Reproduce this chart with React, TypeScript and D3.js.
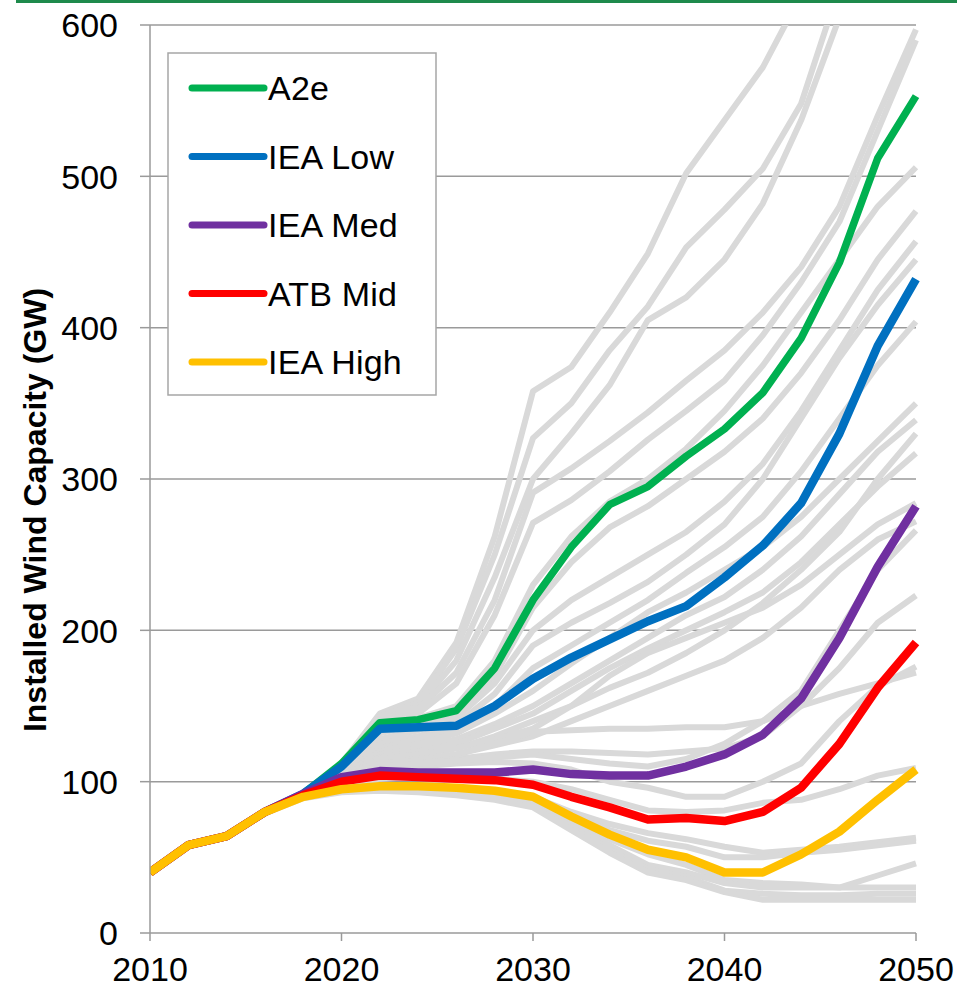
import React from "react";
import * as d3 from "d3";

const years = [2010, 2012, 2014, 2016, 2018, 2020, 2022, 2024, 2026, 2028, 2030, 2032, 2034, 2036, 2038, 2040, 2042, 2044, 2046, 2048, 2050];

const yTicks = [0, 100, 200, 300, 400, 500, 600];
const xTicks = [2010, 2020, 2030, 2040, 2050];

const a2e = [40, 58, 64, 80, 92, 112, 139, 141, 147, 175, 220, 255, 283, 295, 315, 333, 357, 393, 443, 512, 553];
const ieaLow = [40, 58, 64, 80, 92, 110, 135, 136, 137, 150, 168, 182, 194, 206, 216, 235, 256, 284, 330, 388, 432];
const ieaMed = [40, 58, 64, 80, 92, 103, 107, 106, 106, 106, 108, 105, 104, 104, 110, 118, 131, 155, 195, 242, 282];
const atbMid = [40, 58, 64, 80, 91, 100, 104, 103, 102, 101, 98, 90, 83, 75, 76, 74, 80, 96, 125, 162, 192];
const ieaHigh = [40, 58, 64, 80, 90, 95, 97, 97, 96, 94, 90, 77, 65, 55, 50, 40, 40, 52, 67, 88, 108];

const g01 = [40, 58, 64, 80, 92, 112, 145, 155, 192, 262, 358, 374, 410, 449, 502, 537, 572, 620, 680, 740, 800];
const g02 = [40, 58, 64, 80, 92, 112, 143, 152, 188, 250, 327, 350, 385, 414, 453, 478, 505, 548, 625, 690, 750];
const g03 = [40, 58, 64, 80, 92, 110, 140, 150, 180, 235, 300, 330, 362, 405, 420, 445, 482, 537, 605, 665, 720];
const g04 = [40, 58, 64, 80, 92, 110, 138, 148, 172, 220, 291, 307, 325, 344, 365, 385, 410, 440, 480, 540, 597];
const g05 = [40, 58, 64, 80, 92, 108, 136, 145, 165, 210, 271, 286, 305, 326, 345, 365, 395, 430, 470, 530, 590];
const g06 = [40, 58, 64, 80, 92, 108, 138, 142, 150, 180, 230, 262, 285, 300, 320, 345, 375, 410, 445, 480, 506];
const g07 = [40, 58, 64, 80, 92, 106, 132, 138, 145, 170, 215, 245, 268, 282, 300, 318, 340, 370, 405, 445, 477];
const g08 = [40, 58, 64, 80, 92, 105, 128, 134, 142, 165, 200, 220, 235, 250, 265, 285, 310, 345, 385, 425, 457];
const g09 = [40, 58, 64, 80, 92, 104, 125, 130, 138, 158, 190, 205, 218, 232, 250, 270, 300, 340, 380, 415, 445];
const g10 = [40, 58, 64, 80, 92, 104, 122, 128, 135, 150, 175, 190, 205, 220, 238, 255, 275, 305, 340, 375, 404];
const g11 = [40, 58, 64, 80, 92, 103, 120, 125, 132, 145, 160, 178, 195, 212, 225, 240, 255, 275, 300, 325, 350];
const g12 = [40, 58, 64, 80, 92, 102, 118, 122, 128, 138, 150, 165, 180, 195, 210, 222, 240, 262, 290, 318, 339];
const g13 = [40, 58, 64, 80, 92, 102, 116, 120, 125, 135, 145, 160, 175, 188, 200, 212, 225, 245, 270, 295, 317];
const g14 = [40, 58, 64, 80, 92, 101, 114, 118, 122, 130, 140, 150, 162, 172, 185, 200, 218, 240, 265, 300, 330];
const g15 = [40, 58, 64, 80, 92, 101, 115, 118, 122, 128, 135, 150, 170, 185, 195, 205, 215, 230, 250, 270, 284];
const g16 = [40, 58, 64, 80, 92, 100, 112, 115, 118, 124, 130, 140, 150, 160, 170, 180, 195, 215, 240, 260, 272];
const g17 = [40, 58, 64, 80, 92, 100, 112, 114, 118, 125, 133, 134, 135, 135, 136, 136, 140, 160, 200, 240, 266];
const g18 = [40, 58, 64, 80, 92, 99, 110, 112, 115, 118, 120, 120, 119, 118, 120, 122, 130, 150, 175, 205, 223];
const g19 = [40, 58, 64, 80, 92, 98, 108, 110, 112, 113, 112, 108, 100, 96, 90, 90, 100, 112, 140, 163, 176];
const g20 = [40, 58, 64, 80, 92, 99, 110, 112, 114, 116, 118, 115, 112, 110, 115, 125, 140, 150, 158, 165, 172];
const g21 = [40, 58, 64, 80, 91, 97, 102, 103, 103, 102, 100, 95, 88, 81, 80, 81, 86, 88, 95, 104, 109];
const g22 = [40, 58, 64, 80, 91, 96, 98, 97, 96, 94, 90, 80, 72, 66, 62, 57, 53, 55, 57, 60, 63];
const g23 = [40, 58, 64, 80, 90, 95, 97, 96, 95, 92, 88, 78, 68, 61, 57, 50, 50, 53, 55, 58, 61];
const g24 = [40, 58, 64, 80, 90, 95, 96, 95, 94, 91, 87, 75, 62, 52, 45, 35, 33, 32, 30, 38, 46];
const g25 = [40, 58, 64, 79, 90, 94, 95, 94, 93, 90, 85, 72, 58, 45, 40, 33, 30, 30, 30, 30, 30];
const g26 = [40, 58, 64, 79, 90, 94, 95, 94, 92, 89, 84, 70, 55, 42, 37, 28, 26, 25, 25, 26, 26];
const g27 = [40, 58, 64, 79, 89, 93, 94, 93, 91, 88, 83, 68, 53, 40, 35, 27, 22, 22, 22, 22, 22];

const grayLines = [g01, g02, g03, g04, g05, g06, g07, g08, g09, g10, g11, g12, g13, g14, g15, g16, g17, g18, g19, g20, g21, g22, g23, g24, g25, g26, g27];

const seriesNames = ["A2e", "IEA Low", "IEA Med", "ATB Mid", "IEA High"];
const seriesData = [a2e, ieaLow, ieaMed, atbMid, ieaHigh];
const seriesColors = ["#00b050", "#0070c0", "#7030a0", "#ff0000", "#ffc000"];

const FONT = "'Liberation Sans', Arial, sans-serif";

export default function App() {
  const W = 957;
  const H = 989;
  const left = 150, right = 916, top = 25, bottom = 933;
  const x = d3.scaleLinear().domain([2010, 2050]).range([left, right]);
  const y = d3.scaleLinear().domain([0, 600]).range([bottom, top]);
  const line = d3
    .line<number>()
    .x((_, i) => x(years[i]))
    .y((d) => y(d));

  const legendX = 168, legendY = 53, legendW = 268, legendH = 342;
  const legendStep = 68.5;

  return (
    <svg
      width={W}
      height={H}
      viewBox={`0 0 ${W} ${H}`}
      style={{ position: "absolute", left: 0, top: 0, background: "#fff" }}
      fontFamily={FONT}
    >
      <rect x={0} y={0} width={W} height={H} fill="#fff" />
      <rect x={16} y={0} width={W - 16} height={3} fill="#1e8a4c" />
      <defs>
        <clipPath id="plot">
          <rect x={left} y={top} width={right - left + 6} height={bottom - top} />
        </clipPath>
      </defs>

      {yTicks.filter((t) => t > 0).map((t) => (
        <line key={"g" + t} x1={left} x2={right} y1={y(t)} y2={y(t)} stroke="#9a9a9a" strokeWidth={1.5} />
      ))}

      <g clipPath="url(#plot)" fill="none" strokeLinejoin="round">
        {grayLines.map((s, i) => (
          <path key={"gr" + i} d={line(s) || ""} stroke="#d9d9d9" strokeWidth={6} />
        ))}
        {seriesData.map((s, i) => (
          <path key={"s" + i} d={line(s) || ""} stroke={seriesColors[i]} strokeWidth={i === 0 ? 7.5 : 8.5} />
        ))}
      </g>

      <line x1={left} x2={left} y1={top} y2={bottom} stroke="#9a9a9a" strokeWidth={1.5} />
      <line x1={left} x2={right} y1={bottom} y2={bottom} stroke="#9a9a9a" strokeWidth={1.5} />
      {yTicks.map((t) => (
        <g key={"yt" + t}>
          <line x1={left - 10} x2={left} y1={y(t)} y2={y(t)} stroke="#9a9a9a" strokeWidth={1.5} />
          <text x={118} y={y(t)} dy="0.36em" textAnchor="end" fontSize={34} fill="#000">
            {t}
          </text>
        </g>
      ))}
      {xTicks.map((t) => (
        <g key={"xt" + t}>
          <line x1={x(t)} x2={x(t)} y1={bottom} y2={bottom + 8} stroke="#9a9a9a" strokeWidth={1.5} />
          <text x={x(t)} y={981} textAnchor="middle" fontSize={34} fill="#000">
            {t}
          </text>
        </g>
      ))}

      <text
        transform={`translate(46, 510) rotate(-90)`}
        textAnchor="middle"
        fontSize={32}
        fontWeight="bold"
        fill="#000"
      >
        Installed Wind Capacity (GW)
      </text>

      <rect x={legendX} y={legendY} width={legendW} height={legendH} fill="#fff" stroke="#a6a6a6" strokeWidth={1.5} />
      {seriesNames.map((n, i) => {
        const cy = 88 + i * legendStep;
        return (
          <g key={"lg" + i}>
            <line x1={192} x2={264} y1={cy} y2={cy} stroke={seriesColors[i]} strokeWidth={7} strokeLinecap="round" />
            <text x={268} y={cy} dy="0.36em" fontSize={34} fill="#000" letterSpacing={0.2}>
              {n}
            </text>
          </g>
        );
      })}
    </svg>
  );
}
